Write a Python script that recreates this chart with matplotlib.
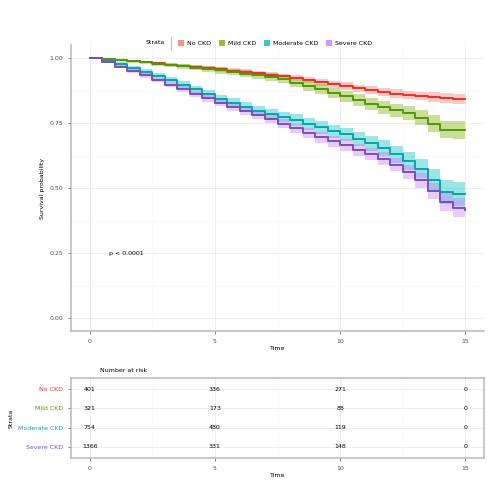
import numpy as np
import matplotlib.pyplot as plt

# ============================
# DATA
# ============================

GROUPS = ["No CKD", "Mild CKD", "Moderate CKD", "Severe CKD"]
COLORS = ["#F8766D", "#7CAE00", "#00BFC4", "#C77CFF"]
LINE_COLORS = ["#E8302A", "#4E9A06", "#0AA3A8", "#7B4FB5"]

times = [0, 0.5, 1, 1.5, 2, 2.5, 3, 3.5, 4, 4.5, 5, 5.5, 6, 6.5, 7, 7.5,
         8, 8.5, 9, 9.5, 10, 10.5, 11, 11.5, 12, 12.5, 13, 13.5, 14, 14.5, 15]

surv_no = [1.0, .996, .992, .988, .984, .979, .975, .971, .966, .961, .956, .951, .946, .941,
           .935, .929, .922, .914, .906, .899, .892, .884, .876, .869, .863, .858, .854, .850,
           .846, .843, .842]
surv_mild = [1.0, .996, .992, .987, .983, .978, .973, .968, .963, .957, .952, .946, .940, .934,
             .927, .919, .905, .892, .880, .866, .853, .838, .822, .810, .800, .790, .770, .748,
             .725, .722, .722]
surv_mod = [1.0, .988, .976, .962, .948, .932, .915, .898, .880, .862, .843, .828, .812, .797,
            .785, .773, .762, .748, .733, .719, .706, .690, .672, .655, .630, .605, .575, .530,
            .485, .477, .477]
surv_sev = [1.0, .983, .966, .950, .933, .915, .897, .880, .862, .845, .827, .811, .795, .780,
            .765, .748, .730, .713, .695, .680, .665, .648, .630, .613, .590, .560, .530, .490,
            .445, .425, .415]

# CI half-widths at each time point
ci_no = [0, .002, .003, .004, .005, .006, .006, .007, .008, .008, .009, .009, .010, .010,
         .011, .011, .012, .012, .013, .013, .014, .014, .015, .016, .016, .017, .017, .018,
         .018, .019, .019]
ci_mild = [0, .003, .004, .005, .006, .007, .008, .009, .010, .011, .012, .012, .013, .014,
           .015, .016, .017, .018, .019, .020, .021, .022, .023, .024, .025, .027, .029, .031,
           .034, .035, .035]
ci_mod = [0, .005, .007, .009, .010, .011, .012, .013, .014, .015, .016, .017, .018, .019,
          .020, .021, .022, .023, .024, .025, .026, .027, .029, .031, .033, .035, .038, .042,
          .046, .047, .047]
ci_sev = [0, .004, .006, .007, .008, .009, .010, .011, .012, .013, .013, .014, .015, .016,
          .016, .017, .018, .019, .020, .021, .022, .023, .024, .025, .026, .027, .029, .031,
          .034, .035, .035]

SURV = [surv_no, surv_mild, surv_mod, surv_sev]
CI = [ci_no, ci_mild, ci_mod, ci_sev]

risk_times = [0, 5, 10, 15]
risk_no = [401, 336, 271, 0]
risk_mild = [321, 173, 88, 0]
risk_mod = [754, 480, 119, 0]
risk_sev = [1366, 331, 148, 0]
RISK = [risk_no, risk_mild, risk_mod, risk_sev]

PVAL = "p < 0.0001"

# ============================
# PLOT
# ============================

FS = 4.5
GRID = "#EBEBEB"
plt.rcParams["font.family"] = "DejaVu Sans"

fig = plt.figure(figsize=(5, 5), dpi=100)
ax = fig.add_axes([0.142, 0.338, 0.826, 0.572])
ax_r = fig.add_axes([0.142, 0.084, 0.826, 0.160])

t = np.array(times)
for surv, ci, col, lc in zip(SURV, CI, COLORS, LINE_COLORS):
    s = np.array(surv)
    c = np.array(ci)
    ax.fill_between(t, s - c, s + c, step="post", color=col, alpha=0.4, lw=0)
    ax.step(t, s, where="post", color=lc, lw=1.4)

ax.set_xlim(-0.75, 15.75)
ax.set_ylim(-0.05, 1.05)
ax.set_xticks([0, 5, 10, 15])
ax.set_yticks([0, 0.25, 0.5, 0.75, 1.0])
ax.set_yticklabels(["0.00", "0.25", "0.50", "0.75", "1.00"])
ax.set_xticks([2.5, 7.5, 12.5], minor=True)
ax.set_yticks([0.125, 0.375, 0.625, 0.875], minor=True)
ax.grid(True, which="major", color=GRID, lw=0.6)
ax.grid(True, which="minor", color="#F5F5F5", lw=0.4)
ax.set_axisbelow(True)
for side in ["top", "right"]:
    ax.spines[side].set_visible(False)
for side in ["left", "bottom"]:
    ax.spines[side].set_color("#BDBDBD")
    ax.spines[side].set_linewidth(1.2)
ax.tick_params(labelsize=FS, colors="#4D4D4D", length=2, width=0.5)
ax.tick_params(which="minor", length=0)
ax.set_xlabel("Time", fontsize=FS, labelpad=2)
ax.set_ylabel("Survival probability", fontsize=FS, labelpad=3)
ax.text(0.75, 0.25, PVAL, fontsize=FS, ha="left", va="center")

handles = [plt.Rectangle((0, 0), 1, 1, fc=c, ec="none", alpha=0.8) for c in COLORS]
fig.legend(handles, GROUPS, loc="center", bbox_to_anchor=(0.55, 0.914),
           ncol=4, frameon=False, fontsize=FS, handlelength=1.0, handleheight=1.0,
           columnspacing=1.2, handletextpad=0.5)
fig.text(0.33, 0.914, "Strata", fontsize=FS, ha="right", va="center")
fig.add_artist(plt.Line2D([0.342, 0.342], [0.902, 0.926], color="#BDBDBD", lw=0.8))

# ============================
# RISK TABLE
# ============================

ypos = [3, 2, 1, 0]
for yy, row in zip(ypos, RISK):
    for tt, n in zip(risk_times, row):
        ax_r.text(tt, yy, str(n), fontsize=FS, ha="center", va="center")

ax_r.set_xlim(-0.75, 15.75)
ax_r.set_ylim(-0.6, 3.6)
ax_r.set_xticks([0, 5, 10, 15])
ax_r.set_xticks([2.5, 7.5, 12.5], minor=True)
ax_r.set_yticks(ypos)
ax_r.set_yticklabels(GROUPS)
ax_r.grid(True, which="major", color=GRID, lw=0.6)
ax_r.grid(True, which="minor", axis="x", color="#F5F5F5", lw=0.4)
ax_r.set_axisbelow(True)
for side in ax_r.spines.values():
    side.set_color("#BDBDBD")
    side.set_linewidth(1.2)
ax_r.tick_params(labelsize=FS, colors="#4D4D4D", length=2, width=0.5)
ax_r.tick_params(which="minor", length=0)
for lab, col in zip(ax_r.get_yticklabels(), LINE_COLORS):
    lab.set_color(col)
ax_r.set_xlabel("Time", fontsize=FS, labelpad=2)
ax_r.set_ylabel("Strata", fontsize=FS, labelpad=3)
ax_r.set_title("Number at risk", fontsize=FS, loc="left", x=0.07, pad=4)

fig.savefig("out.png", dpi=100, facecolor="white")
